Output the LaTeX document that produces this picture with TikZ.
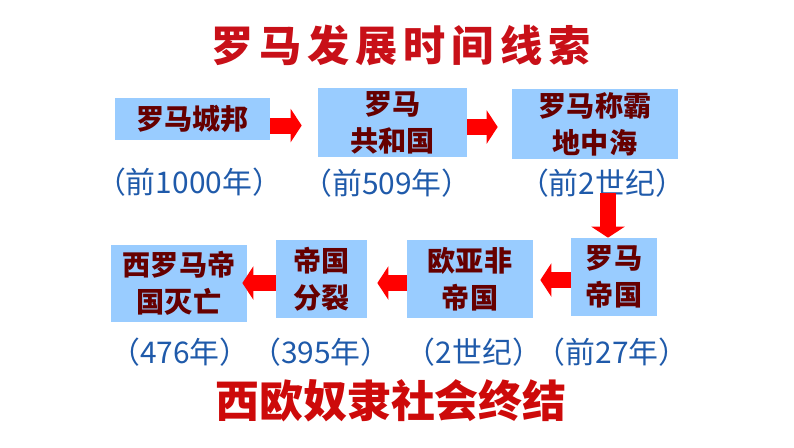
\documentclass[tikz,border=0pt]{standalone}
\usepackage{fontspec}
\newfontfamily\cjk{Noto Sans CJK SC}
\newfontfamily\cjktitle[LetterSpace=14]{Noto Sans CJK SC}
\usetikzlibrary{arrows.meta}
\definecolor{boxblue}{RGB}{153,204,255}
\definecolor{boxtext}{RGB}{102,0,0}
\definecolor{yearblue}{RGB}{31,90,170}
\definecolor{titlered}{RGB}{200,16,24}
\definecolor{endred}{RGB}{205,10,10}

\begin{document}
\begin{tikzpicture}[x=0.02cm,y=-0.02cm,
  stage/.style={fill=boxblue,text=boxtext,align=center,inner sep=0pt,
                font=\cjk\bfseries\fontsize{16}{21}\selectfont},
  year/.style={text=yearblue,inner sep=0pt,font=\cjk\fontsize{17}{20}\selectfont},
  bigarrow/.style={red,line width=0.32cm,-{Triangle[length=0.22cm,width=0.66cm]}}]
  \useasboundingbox (0,0) rectangle (794,447);
  \node[font=\cjktitle\bfseries\fontsize{24}{26}\selectfont,text=titlered]
    (title) at (401,45) {罗马发展时间线索};

  % Upper row, left to right.
  \node[stage,minimum width=3.1cm,minimum height=0.84cm] (city) at (192.5,119) {罗马城邦};
  \node[stage,minimum width=2.98cm,minimum height=1.38cm] (republic) at (392.5,122.5) {罗马\\共和国};
  \node[stage,minimum width=3.32cm,minimum height=1.4cm] (med) at (595,124) {罗马称霸\\地中海};
  % Lower row, right to left.
  \node[stage,minimum width=1.72cm,minimum height=1.56cm] (empire) at (614,277) {罗马\\帝国};
  \node[stage,minimum width=2.52cm,minimum height=1.56cm] (eurasia) at (470,279) {欧亚非\\帝国};
  \node[stage,minimum width=1.82cm,minimum height=1.56cm] (split) at (321.5,279) {帝国\\分裂};
  \node[stage,minimum width=2.72cm,minimum height=1.54cm] (fall) at (179,283.5) {西罗马帝\\国灭亡};

  \foreach \n/\x/\y/\t in {city/189/182/（前1000年）,republic/387/183/（前509年）,
      med/602/183/（前2世纪）,empire/612/352/（前27年）,eurasia/474/352/（2世纪）,
      split/321/352/（395年）,fall/180/352/（476年）}
    \node[year] (\n-yr) at (\x,\y) {\t};

  \draw[bigarrow,shorten >=0.32cm] ([yshift=-0.13cm]city.east) -- ([yshift=-0.13cm]city.east -| republic.west);
  \draw[bigarrow,shorten >=0.28cm] ([yshift=-0.09cm]republic.east) -- ([yshift=-0.09cm]republic.east -| med.west);
  \draw[bigarrow,shorten <=-0.1cm] ([xshift=-0.12cm]med-yr.south -| empire.north) -- ([xshift=-0.12cm]empire.north);
  \draw[bigarrow,shorten >=0.14cm] ([yshift=-0.06cm]empire.west) -- ([yshift=-0.06cm]empire.west -| eurasia.east);
  \draw[bigarrow,shorten >=0.2cm] ([yshift=-0.08cm]eurasia.west) -- ([yshift=-0.08cm]eurasia.west -| split.east);
  \draw[bigarrow,shorten >=-0.1cm] ([yshift=-0.08cm]split.west) -- ([yshift=-0.08cm]split.west -| fall.east);

  \node[font=\cjk\bfseries\fontsize{25}{28}\selectfont,text=endred] (end) at (391,401) {西欧奴隶社会终结};
\end{tikzpicture}
\end{document}
